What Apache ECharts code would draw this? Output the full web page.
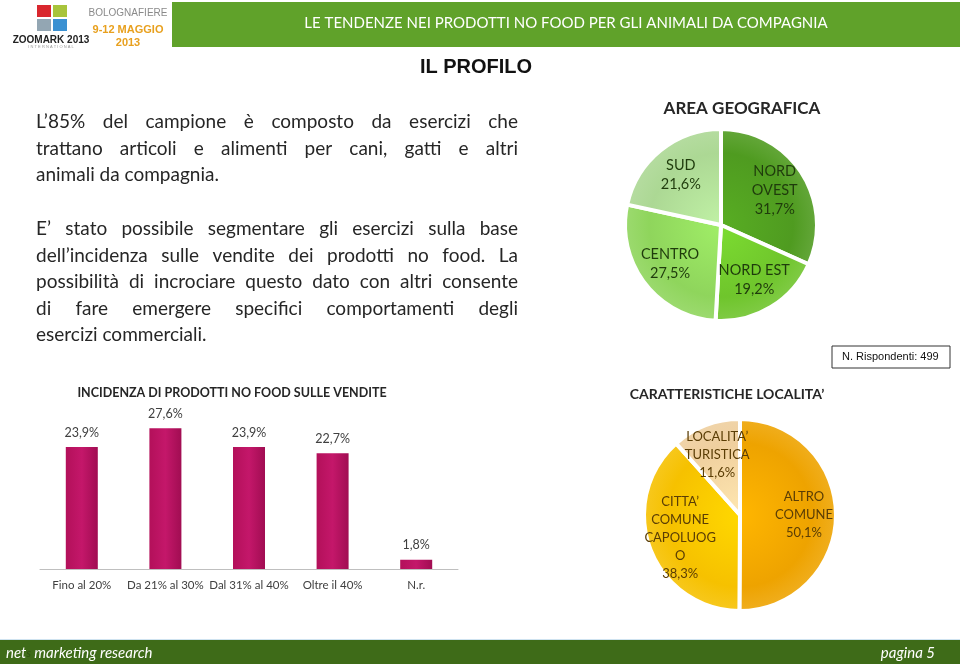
<!DOCTYPE html>
<html>
<head>
<meta charset="utf-8">
<script src="https://cdn.jsdelivr.net/npm/echarts@6/dist/echarts.min.js"></script>
<style>
  html, body { margin: 0; padding: 0; background: #fff; }
  #main { width: 960px; height: 664px; }
</style>
</head>
<body>
<div id="main"></div>
<script>
// dati del grafico a barre
var barCats = ['Fino al 20%', 'Da 21% al 30%', 'Dal 31% al 40%', 'Oltre il 40%', 'N.r.'];
var barValues = [23.9, 27.6, 23.9, 22.7, 1.8];

// area geografica
var areaNames = ['NORD\nOVEST', 'NORD EST', 'CENTRO', 'SUD'];
var areaValues = [31.7, 19.2, 27.5, 21.6];
var areaColors = ['#4f9b20', '#6fc52c', '#8fd55c', '#acd894'];

// caratteristiche localita'
var locNames = ['ALTRO\nCOMUNE', 'CITTA’\nCOMUNE\nCAPOLUOG\nO', 'LOCALITA’\nTURISTICA'];
var locValues = [50.1, 38.3, 11.6];
var locColors = ['#eea300', '#f6c100', '#efcf9e'];

// testo a sinistra (paragrafi)
var para1 = ['L’85% del campione è composto da esercizi che',
             'trattano articoli e alimenti per cani, gatti e altri',
             'animali da compagnia.'];
var para2 = ['E’ stato possibile segmentare gli esercizi sulla base',
             'dell’incidenza sulle vendite dei prodotti no food. La',
             'possibilità di incrociare questo dato con altri consente',
             'di fare emergere specifici comportamenti degli',
             'esercizi commerciali.'];

var FONT = 'Lato, "Open Sans", sans-serif';
var pct = function (v) { return v.toFixed(1).replace('.', ',') + '%'; };

var myChart = echarts.init(document.getElementById('main'));

// testo giustificato, parola per parola
var ctx = document.createElement('canvas').getContext('2d');
var pFont = 'normal 19px Lato';
ctx.font = pFont;
var textEls = [];
function addPara(lines, y0) {
  var left = 36, right = 518, lh = 26.5;
  lines.forEach(function (line, i) {
    var y = y0 + i * lh;
    var words = line.split(' ');
    var last = i === lines.length - 1;
    if (last) {
      textEls.push({ type: 'text', x: left, y: y, style: { text: line, font: pFont, fill: '#262626', textVerticalAlign: 'middle' } });
      return;
    }
    var wsum = 0;
    words.forEach(function (w) { wsum += ctx.measureText(w).width; });
    var gap = (right - left - wsum) / (words.length - 1);
    var x = left;
    words.forEach(function (w) {
      textEls.push({ type: 'text', x: x, y: y, style: { text: w, font: pFont, fill: '#262626', textVerticalAlign: 'middle' } });
      x += ctx.measureText(w).width + gap;
    });
  });
}
addPara(para1, 122);
addPara(para2, 229);

// sfumatura radiale per le fette
function shade(c, cx, cy, r) {
  return new echarts.graphic.RadialGradient(cx, cy, r, [
    { offset: 0, color: echarts.color.lift(c, -0.12) },
    { offset: 0.75, color: c },
    { offset: 1, color: echarts.color.lift(c, 0.12) }
  ], true);
}

function pieSeries(center, names, values, colors, textColor, fs, lh) {
  var base = {
    type: 'pie', center: center, radius: 96, startAngle: 90, clockwise: true,
    silent: true, avoidLabelOverlap: false
  };
  var shapes = Object.assign({}, base, {
    data: names.map(function (n, i) {
      return { name: n, value: values[i], itemStyle: { color: shade(colors[i], center[0], center[1], 96) } };
    }),
    itemStyle: { borderColor: '#fff', borderWidth: 4 },
    label: { show: false },
    labelLine: { show: false }
  });
  // serie trasparente solo per le etichette, un po' piu' verso l'esterno
  var labels = Object.assign({}, base, {
    radius: [26, 96],
    data: names.map(function (n, i) { return { name: n, value: values[i] }; }),
    itemStyle: { color: 'rgba(0,0,0,0)' },
    label: {
      position: 'inside', color: textColor, fontSize: fs, fontFamily: FONT, lineHeight: lh,
      formatter: function (p) { return p.name + '\n' + pct(p.value); }
    },
    labelLine: { show: false }
  });
  return [shapes, labels];
}

var option = {
  backgroundColor: '#fff',
  animation: false,
  grid: { left: 40, right: 502, top: 416, bottom: 95 },
  xAxis: {
    type: 'category',
    data: barCats,
    axisTick: { show: false },
    axisLine: { lineStyle: { color: '#bfbfbf', width: 1 } },
    axisLabel: { color: '#404040', fontSize: 11.5, fontFamily: FONT, margin: 10, interval: 0 }
  },
  yAxis: { type: 'value', min: 0, max: 30, show: false, splitLine: { show: false } },
  series: [
    {
      type: 'bar',
      data: barValues,
      barWidth: 32,
      itemStyle: {
        color: new echarts.graphic.LinearGradient(0, 0, 1, 0, [
          { offset: 0, color: '#b3105a' },
          { offset: 0.5, color: '#c4176a' },
          { offset: 1, color: '#a10d52' }
        ])
      },
      label: {
        show: true, position: 'top', distance: 8,
        color: '#404040', fontSize: 12.5, fontFamily: FONT,
        formatter: function (p) { return pct(p.value); }
      }
    }
  ]
  .concat(pieSeries([721, 225], areaNames, areaValues, areaColors, '#1f3b0c', 14.5, 19))
  .concat(pieSeries([740, 515], locNames, locValues, locColors, '#5a3d05', 13, 18)),
  graphic: [
    // logo
    { type: 'rect', shape: { x: 37, y: 5, width: 14, height: 12 }, style: { fill: '#d9272e' } },
    { type: 'rect', shape: { x: 53, y: 5, width: 14, height: 12 }, style: { fill: '#a8c43c' } },
    { type: 'rect', shape: { x: 37, y: 19, width: 14, height: 12 }, style: { fill: '#93a6b3' } },
    { type: 'rect', shape: { x: 53, y: 19, width: 14, height: 12 }, style: { fill: '#3b91d2' } },
    { type: 'text', x: 51, y: 40, style: { text: 'ZOOMARK 2013', font: 'bold 10px "Liberation Sans Narrow", "Liberation Sans"', fill: '#222', textAlign: 'center', textVerticalAlign: 'middle' } },
    { type: 'text', x: 51, y: 47, style: { text: 'I N T E R N A T I O N A L', font: '4px "Liberation Sans"', fill: '#999', textAlign: 'center', textVerticalAlign: 'middle' } },
    { type: 'text', x: 128, y: 13, style: { text: 'BOLOGNAFIERE', font: '10px "Liberation Sans Narrow", "Liberation Sans"', fill: '#8a8a8a', textAlign: 'center', textVerticalAlign: 'middle' } },
    { type: 'text', x: 128, y: 30, style: { text: '9-12 MAGGIO', font: 'bold 11px "Liberation Sans Narrow", "Liberation Sans"', fill: '#e8a01e', textAlign: 'center', textVerticalAlign: 'middle' } },
    { type: 'text', x: 128, y: 43, style: { text: '2013', font: 'bold 11px "Liberation Sans Narrow", "Liberation Sans"', fill: '#e8a01e', textAlign: 'center', textVerticalAlign: 'middle' } },
    // barra verde in alto
    { type: 'rect', shape: { x: 172, y: 2, width: 788, height: 45 }, style: { fill: '#60a22a' } },
    { type: 'text', x: 566, y: 23, style: { text: 'LE TENDENZE NEI PRODOTTI NO FOOD PER GLI ANIMALI DA COMPAGNIA', font: '15px ' + FONT, fill: '#fff', textAlign: 'center', textVerticalAlign: 'middle' } },
    { type: 'text', x: 476, y: 67, style: { text: 'IL PROFILO', font: 'bold 20px "Liberation Sans Narrow", "Liberation Sans"', fill: '#111', textAlign: 'center', textVerticalAlign: 'middle' } },
    // titoli dei grafici
    { type: 'text', x: 742, y: 109, style: { text: 'AREA GEOGRAFICA', font: 'bold 17px ' + FONT, fill: '#262626', textAlign: 'center', textVerticalAlign: 'middle' } },
    { type: 'text', x: 232, y: 393, style: { text: 'INCIDENZA DI PRODOTTI NO FOOD SULLE VENDITE', font: 'bold 12.5px ' + FONT, fill: '#262626', textAlign: 'center', textVerticalAlign: 'middle' } },
    { type: 'text', x: 727, y: 394, style: { text: 'CARATTERISTICHE LOCALITA’', font: 'bold 14px ' + FONT, fill: '#262626', textAlign: 'center', textVerticalAlign: 'middle' } },
    // box rispondenti
    { type: 'rect', shape: { x: 832, y: 346, width: 118, height: 22 }, style: { fill: '#fff', stroke: '#333', lineWidth: 1 } },
    { type: 'text', x: 842, y: 357, style: { text: 'N. Rispondenti: 499', font: '11px "Liberation Sans Narrow", "Liberation Sans"', fill: '#111', textVerticalAlign: 'middle' } },
    // footer
    { type: 'rect', shape: { x: 0, y: 640, width: 960, height: 24 }, style: { fill: '#3e6b18' } },
    { type: 'rect', shape: { x: 0, y: 639, width: 960, height: 1 }, style: { fill: '#cfe3f0' } },
    { type: 'text', x: 6, y: 653, style: {
        text: '{w|net}{s|s}{w| marketing research}', textVerticalAlign: 'middle',
        rich: {
          w: { font: 'italic 15px ' + FONT, fill: '#fff' },
          s: { font: 'italic 11px ' + FONT, fill: '#2f5212' }
        }
      } },
    { type: 'text', x: 935, y: 653, style: { text: 'pagina 5', font: 'italic 15px ' + FONT, fill: '#fff', textAlign: 'right', textVerticalAlign: 'middle' } }
  ].concat(textEls)
};

myChart.setOption(option);
</script>
</body>
</html>
